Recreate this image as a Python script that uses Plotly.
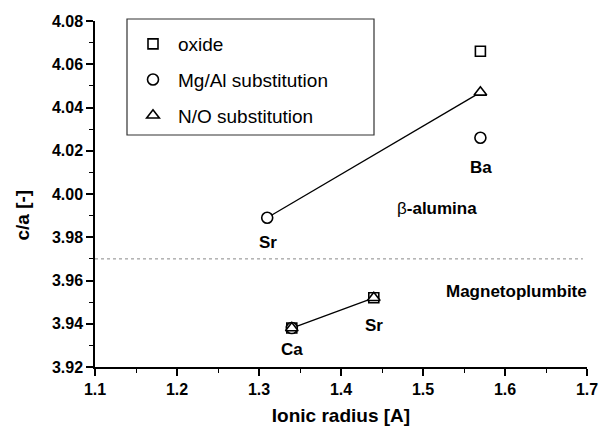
import plotly.graph_objects as go

# ---- data ----
oxide_x = [1.34, 1.44, 1.57]
oxide_y = [3.938, 3.952, 4.066]
mgal_x = [1.34, 1.31, 1.57]
mgal_y = [3.938, 3.989, 4.026]
no_x = [1.34, 1.44, 1.57]
no_y = [3.938, 3.952, 4.047]

beta_line_x = [1.31, 1.57]
beta_line_y = [3.989, 4.047]
mag_line_x = [1.34, 1.44]
mag_line_y = [3.938, 3.952]

boundary_x = [1.1, 1.695]
boundary_y = [3.97, 3.97]

x_ticks = [1.1, 1.2, 1.3, 1.4, 1.5, 1.6, 1.7]
y_ticks = [3.92, 3.94, 3.96, 3.98, 4.00, 4.02, 4.04, 4.06, 4.08]

FONT = "Liberation Sans, Arial, sans-serif"

fig = go.Figure()

fig.add_trace(go.Scatter(x=boundary_x, y=boundary_y, mode="lines",
                         line=dict(color="#888888", width=1, dash="dot"),
                         showlegend=False, hoverinfo="skip"))
for lx, ly in [(beta_line_x, beta_line_y), (mag_line_x, mag_line_y)]:
    fig.add_trace(go.Scatter(x=lx, y=ly, mode="lines",
                             line=dict(color="black", width=1.3),
                             showlegend=False, hoverinfo="skip"))

mk_line = dict(color="black", width=1.6)
fig.add_trace(go.Scatter(x=oxide_x, y=oxide_y, mode="markers", name="oxide",
                         legendgroup="a",
                         marker=dict(symbol="square", size=10, color="white", line=mk_line)))
fig.add_trace(go.Scatter(x=mgal_x, y=mgal_y, mode="markers", name="Mg/Al substitution",
                         legendgroup="b",
                         marker=dict(symbol="circle", size=11, color="white", line=mk_line)))
fig.add_trace(go.Scatter(x=no_x, y=no_y, mode="markers", name="N/O substitution",
                         legendgroup="c",
                         marker=dict(symbol="triangle-up", size=11, color="white", line=mk_line)))

ann_font = dict(family=FONT, size=17, color="black")
labels = [
    (1.5707, 4.0121, "<b>Ba</b>"),
    (1.311, 3.9775, "<b>Sr</b>"),
    (1.517, 3.9932, "β<b>-alumina</b>"),
    (1.6146, 3.9548, "<b>Magnetoplumbite</b>"),
    (1.4402, 3.939, "<b>Sr</b>"),
    (1.340, 3.928, "<b>Ca</b>"),
]
for x, y, t in labels:
    fig.add_annotation(x=x, y=y, text=t, showarrow=False, font=ann_font,
                       xanchor="center", yanchor="middle")

# y-axis title (placed slightly below the axis centre, as in the original)
fig.add_annotation(xref="paper", yref="paper", x=(21.5 - 95) / 492, y=(367 - 215) / 346,
                   text="<b>c/a [-]</b>", textangle=-90, showarrow=False,
                   xanchor="center", yanchor="middle",
                   font=dict(family=FONT, size=19, color="black"))

# legend box
fig.add_shape(type="rect", xref="paper", yref="paper",
              x0=(127 - 95) / 492, x1=(374 - 95) / 492,
              y0=(367 - 135) / 346, y1=(367 - 19) / 346,
              line=dict(color="#333333", width=1.2), fillcolor="rgba(0,0,0,0)")

axis_common = dict(showline=True, linecolor="black", linewidth=1.5, mirror=False,
                   ticks="outside", ticklen=7, tickwidth=1.5, tickcolor="black",
                   showgrid=False, zeroline=False, automargin=False,
                   tickfont=dict(family=FONT, size=16, color="black"))

fig.update_layout(
    width=601, height=427,
    margin=dict(l=95, r=14, t=21, b=60),
    paper_bgcolor="white", plot_bgcolor="white",
    showlegend=True,
    legend=dict(x=(128 - 95) / 492, y=(367 - 25) / 346, xanchor="left", yanchor="top",
                bgcolor="rgba(0,0,0,0)", borderwidth=0, itemwidth=40,
                font=dict(family=FONT, size=19, color="black"),
                traceorder="grouped", tracegroupgap=8),
    xaxis=dict(range=[1.1, 1.7], tickvals=x_ticks,
               ticktext=[f"<b>{v:.1f}</b>" for v in x_ticks],
               minor=dict(ticks="outside", ticklen=4, dtick=0.05, tickcolor="black", tickwidth=1.2),
               title=dict(text="<b>Ionic radius [A]</b>", standoff=12,
                          font=dict(family=FONT, size=19, color="black")),
               **axis_common),
    yaxis=dict(range=[3.92, 4.08], tickvals=y_ticks,
               ticktext=[f"<b>{v:.2f}</b>" for v in y_ticks],
               minor=dict(ticks="outside", ticklen=4, dtick=0.01, tickcolor="black", tickwidth=1.2),
               **axis_common),
)

fig.write_html("out.html")
